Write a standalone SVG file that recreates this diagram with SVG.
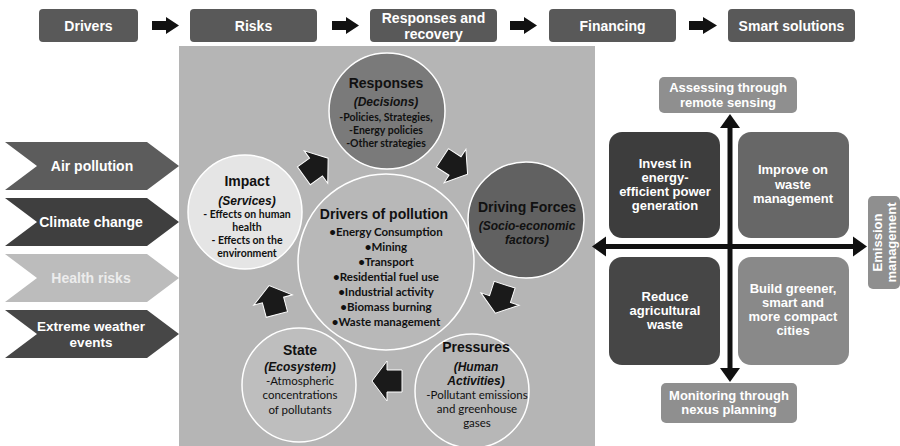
<svg xmlns="http://www.w3.org/2000/svg" width="900" height="446" viewBox="0 0 900 446">
<defs>
<style>
.tb{fill:#595959;}
.tt{font-family:"Liberation Sans",Arial,sans-serif;font-weight:bold;font-size:14px;fill:#ffffff;text-anchor:middle;}
.ch{font-family:"Liberation Sans",Arial,sans-serif;font-weight:bold;font-size:14px;fill:#ffffff;text-anchor:middle;}
.circ{stroke:#ffffff;stroke-width:1.5;}
.h{font-family:"Liberation Sans",Arial,sans-serif;font-weight:bold;font-size:14px;fill:#111111;text-anchor:middle;}
.hi{font-family:"Liberation Sans",Arial,sans-serif;font-weight:bold;font-style:italic;font-size:12px;fill:#111111;text-anchor:middle;}
.bb{font-family:Lato,"Open Sans",sans-serif;font-weight:bold;font-size:10.5px;fill:#111111;text-anchor:middle;}
.bd{font-family:Lato,"Open Sans",sans-serif;font-weight:bold;font-size:11.5px;fill:#111111;text-anchor:middle;}
.br{font-family:Lato,"Open Sans",sans-serif;font-size:11.5px;fill:#111111;text-anchor:middle;}
.blk{fill:#1a1a1a;stroke:#ffffff;stroke-width:1;}
.q{font-family:"Liberation Sans",Arial,sans-serif;font-weight:bold;font-size:13px;fill:#ffffff;text-anchor:middle;}
.ax{fill:#111111;}
</style>
<polygon id="barrow" points="-15,-11 0,-11 0,-20 15,0 0,20 0,11 -15,11"/>
</defs>
<rect x="0" y="0" width="900" height="446" fill="#ffffff"/>

<!-- gray panel -->
<rect id="panel" x="179" y="46" width="416" height="400" fill="#b5b5b5"/>

<!-- top flow -->
<g id="top-drivers"><rect class="tb" x="39" y="9" width="99" height="33" rx="4"/><text class="tt" x="88.5" y="30.5">Drivers</text></g>
<g id="top-risks"><rect class="tb" x="190" y="9" width="127" height="33" rx="4"/><text class="tt" x="253.5" y="30.5">Risks</text></g>
<g id="top-responses"><rect class="tb" x="370" y="9" width="127" height="33" rx="4"/><text class="tt" x="433.5" y="23">Responses and</text><text class="tt" x="433.5" y="39">recovery</text></g>
<g id="top-financing"><rect class="tb" x="549" y="9" width="127" height="33" rx="4"/><text class="tt" x="612.5" y="30.5">Financing</text></g>
<g id="top-smart"><rect class="tb" x="728" y="9" width="127" height="33" rx="4"/><text class="tt" x="791.5" y="30.5">Smart solutions</text></g>

<!-- left chevrons -->
<g id="chev-air"><polygon points="5,142 147,142 179,166 147,190 5,190 37,166" fill="#5c5c5c"/><text class="ch" x="92" y="171">Air pollution</text></g>
<g id="chev-climate"><polygon points="5,198 147,198 179,222 147,246 5,246 37,222" fill="#3f3f3f"/><text class="ch" x="91" y="227">Climate change</text></g>
<g id="chev-health"><polygon points="5,254 147,254 179,278 147,302 5,302 37,278" fill="#bcbcbc"/><text class="ch" x="91" y="283" style="fill:#ececec">Health risks</text></g>
<g id="chev-extreme"><polygon points="5,310 147,310 179,334 147,358 5,358 37,334" fill="#474747"/><text class="ch" x="91" y="331" style="font-size:13.5px">Extreme weather</text><text class="ch" x="91" y="346.5" style="font-size:13.5px">events</text></g>

<!-- circles -->
<g id="responses">
<circle class="circ" cx="387" cy="111" r="58" fill="#7a7a7a"/>
<text class="h" x="386" y="88">Responses</text>
<text class="hi" x="386" y="106">(Decisions)</text>
<text class="bb" x="386" y="121">-Policies, Strategies,</text>
<text class="bb" x="386" y="134">-Energy policies</text>
<text class="bb" x="386" y="147">-Other strategies</text>
</g>
<g id="impact">
<circle class="circ" cx="245" cy="212" r="57" fill="#e5e5e5"/>
<text class="h" x="247" y="186">Impact</text>
<text class="hi" x="247" y="205">(Services)</text>
<text class="bb" x="247" y="218">- Effects on human</text>
<text class="bb" x="247" y="231">health</text>
<text class="bb" x="247" y="244">- Effects on the</text>
<text class="bb" x="247" y="257">environment</text>
</g>
<g id="drivers">
<circle class="circ" cx="386" cy="262" r="88" fill="#b8b8b8"/>
<text class="h" x="384" y="219">Drivers of pollution</text>
<text class="bd" x="386" y="236">•Energy Consumption</text>
<text class="bd" x="386" y="251">•Mining</text>
<text class="bd" x="386" y="266">•Transport</text>
<text class="bd" x="386" y="281">•Residential fuel use</text>
<text class="bd" x="386" y="296">•Industrial activity</text>
<text class="bd" x="386" y="311">•Biomass burning</text>
<text class="bd" x="386" y="326">•Waste management</text>
</g>
<g id="driving-forces">
<circle class="circ" cx="526" cy="220" r="58" fill="#616161"/>
<text class="h" x="527" y="212">Driving Forces</text>
<text class="hi" x="527" y="230">(Socio-economic</text>
<text class="hi" x="527" y="244">factors)</text>
</g>
<g id="state">
<circle class="circ" cx="299" cy="385" r="57" fill="#bebebe"/>
<text class="h" x="300" y="355">State</text>
<text class="hi" x="300" y="371">(Ecosystem)</text>
<text class="br" x="300" y="385">-Atmospheric</text>
<text class="br" x="300" y="399">concentrations</text>
<text class="br" x="300" y="414">of pollutants</text>
</g>
<g id="pressures">
<circle class="circ" cx="472" cy="391" r="57" fill="#b7b7b7"/>
<text class="h" x="476" y="352">Pressures</text>
<text class="hi" x="476" y="371">(Human</text>
<text class="hi" x="476" y="385">Activities)</text>
<text class="br" x="477" y="399">-Pollutant emissions</text>
<text class="br" x="477" y="413">and greenhouse</text>
<text class="br" x="477" y="427">gases</text>
</g>

<!-- connectors -->
<g id="connectors">
<polygon class="ax" points="152,21 166,21 166,17 179,25.5 166,34 166,30 152,30"/>
<polygon class="ax" points="332,21 346,21 346,17 359,25.5 346,34 346,30 332,30"/>
<polygon class="ax" points="510,21 524,21 524,17 537,25.5 524,34 524,30 510,30"/>
<polygon class="ax" points="689,21 703,21 703,17 717,25.5 703,34 703,30 689,30"/>
<use href="#barrow" class="blk" transform="translate(316,167) rotate(-36)"/>
<use href="#barrow" class="blk" transform="translate(455,166) rotate(33)"/>
<use href="#barrow" class="blk" transform="translate(500,299) rotate(108)"/>
<use href="#barrow" class="blk" transform="translate(387,381) rotate(180)"/>
<use href="#barrow" class="blk" transform="translate(273,300) rotate(-105)"/>
<rect class="ax" x="727.5" y="126" width="5" height="244"/>
<polygon class="ax" points="720,128 730,114 740,128"/>
<polygon class="ax" points="720,368 730,382 740,368"/>
<rect class="ax" x="604" y="244" width="250" height="5"/>
<polygon class="ax" points="606,236.5 592,246.5 606,256.5"/>
<polygon class="ax" points="853,236.5 867,246.5 853,256.5"/>
</g>

<!-- quadrant -->
<g id="q-invest"><rect x="609" y="132" width="111" height="106" rx="13" fill="#3d3d3d"/>
<text class="q" x="665" y="168">Invest in</text><text class="q" x="665" y="182">energy-</text><text class="q" x="665" y="196">efficient power</text><text class="q" x="665" y="210">generation</text></g>
<g id="q-improve"><rect x="738" y="132" width="111" height="106" rx="13" fill="#676767"/>
<text class="q" x="793" y="174">Improve on</text><text class="q" x="793" y="189">waste</text><text class="q" x="793" y="203">management</text></g>
<g id="q-reduce"><rect x="609" y="257" width="111" height="108" rx="13" fill="#464646"/>
<text class="q" x="665" y="301">Reduce</text><text class="q" x="665" y="315">agricultural</text><text class="q" x="665" y="329">waste</text></g>
<g id="q-build"><rect x="738" y="257" width="111" height="108" rx="13" fill="#898989"/>
<text class="q" x="793" y="293">Build greener,</text><text class="q" x="793" y="307">smart and</text><text class="q" x="793" y="321">more compact</text><text class="q" x="793" y="335">cities</text></g>
<g id="q-assess"><rect x="659" y="77" width="138" height="36" rx="5" fill="#8f8f8f"/>
<text class="q" x="728" y="92">Assessing through</text><text class="q" x="728" y="107">remote sensing</text></g>
<g id="q-monitor"><rect x="661" y="383" width="136" height="40" rx="5" fill="#8f8f8f"/>
<text class="q" x="729" y="400">Monitoring through</text><text class="q" x="729" y="414">nexus planning</text></g>
<g id="q-emission"><rect x="868" y="196" width="32" height="93" rx="5" fill="#8f8f8f"/>
<text class="q" transform="translate(882,242.5) rotate(-90)">Emission</text><text class="q" transform="translate(896,242.5) rotate(-90)">management</text></g>
</svg>
